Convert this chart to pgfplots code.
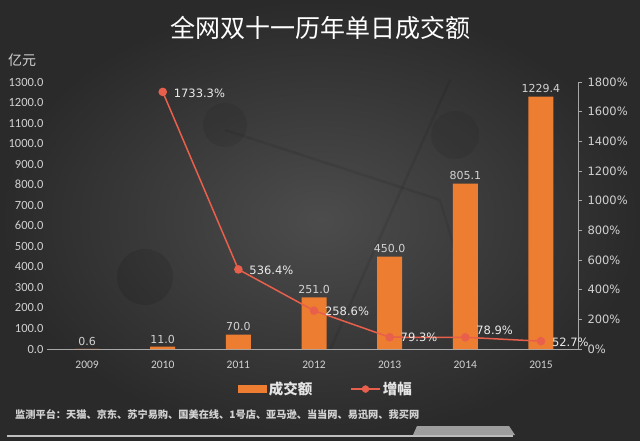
\documentclass[border=0pt]{standalone}
\usepackage{pgfplots}
\pgfplotsset{compat=1.18}
\usepackage{fontspec}
\setmainfont{Carlito}
\newfontfamily\cjk{Noto Sans CJK SC}
\newfontfamily\dejavu{DejaVu Sans}

\definecolor{barorange}{HTML}{ED7D31}
\definecolor{lnred}{HTML}{E8604C}
\definecolor{txtgray}{HTML}{D2D2D2}
\definecolor{axgray}{HTML}{A8A8A8}
\definecolor{bgin}{HTML}{4C4C4C}
\definecolor{bgout}{HTML}{2A2A2A}

\pgfplotstableread{
x  y
0  0.6
1  11.0
2  70.0
3  251.0
4  450.0
5  805.1
6  1229.4
}\amount

\pgfplotstableread{
x  y       dy
1  1733.3  -1
2  536.4   -1
3  258.6   -1
4  79.3    0
5  78.9    7
6  52.7    -1
}\growth

\begin{document}
\begin{tikzpicture}
\shade[inner color=bgin, outer color=bgout] (0pt,0pt) rectangle (640pt,440pt);
\path[use as bounding box] (0pt,0pt) rectangle (640pt,440pt);

% faint decoration
\draw[black, opacity=0.08, line width=2.5pt] (225pt,310pt) -- (440pt,240pt) -- (470pt,140pt);
\draw[black, opacity=0.08, line width=2.5pt] (330pt,90pt) -- (450pt,360pt);
\fill[black, opacity=0.10] (145pt,163pt) circle (28pt);
\fill[black, opacity=0.07] (455pt,305pt) circle (24pt);
\fill[black, opacity=0.07] (225pt,315pt) circle (22pt);

\node[anchor=center, text=white] at (320pt,412pt) {\cjk\fontsize{25}{30}\selectfont 全网双十一历年单日成交额};
\node[anchor=west, text=txtgray, inner sep=0pt] at (8pt,380pt) {\cjk\fontsize{14}{16}\selectfont 亿元};

\begin{axis}[
  at={(47pt,91pt)}, anchor=south west,
  scale only axis, width=531pt, height=267pt,
  xmin=-0.53, xmax=6.49, ymin=0, ymax=1300,
  axis x line*=bottom, axis y line*=left,
  x axis line style={axgray, line width=1pt, -},
  y axis line style={draw=none},
  ytick={0,100,...,1300},
  xtick={0,...,6},
  xticklabels={2009,2010,2011,2012,2013,2014,2015},
  major tick style={draw=none},
  /pgf/number format/assume math mode=true,
  yticklabel style={font=\fontsize{12.5}{13}\selectfont, text=txtgray,
    /pgf/number format/fixed, /pgf/number format/fixed zerofill,
    /pgf/number format/precision=1, /pgf/number format/1000 sep={}},
  xticklabel style={font=\fontsize{11.5}{13}\selectfont, text=txtgray, yshift=-4pt},
  ybar, bar width=25pt,
  nodes near coords,
  nodes near coords style={font=\dejavu\fontsize{11}{12}\selectfont, text=txtgray,
    /pgf/number format/fixed, /pgf/number format/fixed zerofill,
    /pgf/number format/precision=1, /pgf/number format/1000 sep={}},
  legend columns=2,
  legend style={at={(0.525,-0.15)}, anchor=center, draw=none, fill=none,
    text=white!90!black, font=\cjk\bfseries\fontsize{14.5}{16}\selectfont,
    /tikz/every even column/.append style={column sep=36pt}},
]
\addplot[fill=barorange, draw=none,
  legend image code/.code={\fill[barorange] (0pt,-4pt) rectangle (29pt,4pt);}]
  table[x=x, y=y] {\amount};
\addlegendentry{成交额}
\addlegendimage{legend image code/.code={\draw[lnred, line width=1.5pt] (0pt,0pt) -- (29pt,0pt); \fill[lnred] (14.5pt,0pt) circle (3.5pt);}}
\addlegendentry{增幅}
\end{axis}

\begin{axis}[
  at={(47pt,91pt)}, anchor=south west,
  scale only axis, width=531pt, height=267pt,
  xmin=-0.53, xmax=6.49, ymin=0, ymax=1800,
  axis x line=none, axis y line*=right,
  y axis line style={axgray, line width=0.8pt, -},
  ytick={0,200,...,1800},
  tick align=outside, major tick length=4pt,
  major tick style={axgray, line width=0.8pt},
  /pgf/number format/assume math mode=true,
  yticklabel={\pgfmathprintnumber[1000 sep={}]{\tick}\%},
  yticklabel style={font=\dejavu\fontsize{11.5}{13}\selectfont, text=txtgray, xshift=2pt},
]
\addplot[lnred, line width=1.5pt, mark=*, mark size=3.5pt,
  visualization depends on={\thisrow{dy} \as \dy},
  nodes near coords={\pgfmathprintnumber[fixed, fixed zerofill, precision=1, 1000 sep={}, assume math mode=true]{\pgfplotspointmeta}\%},
  nodes near coords style={anchor=west, xshift=7pt, yshift=\dy pt, text=white!92!black,
    font=\dejavu\fontsize{11.5}{13}\selectfont}]
  table[x=x, y=y] {\growth};
\end{axis}

\node[anchor=west, text=txtgray, inner sep=0pt] at (15pt,25pt) {\cjk\bfseries\fontsize{10.2}{12}\selectfont 监测平台：天猫、京东、苏宁易购、国美在线、1号店、亚马逊、当当网、易迅网、我买网};
\draw[color=white!75!black, line width=1.2pt] (7pt,4pt) -- (513pt,4pt);
\fill[white!62!black] (413pt,5pt) -- (417pt,14pt) -- (509pt,14pt) -- (515pt,5pt) -- cycle;
\end{tikzpicture}
\end{document}
